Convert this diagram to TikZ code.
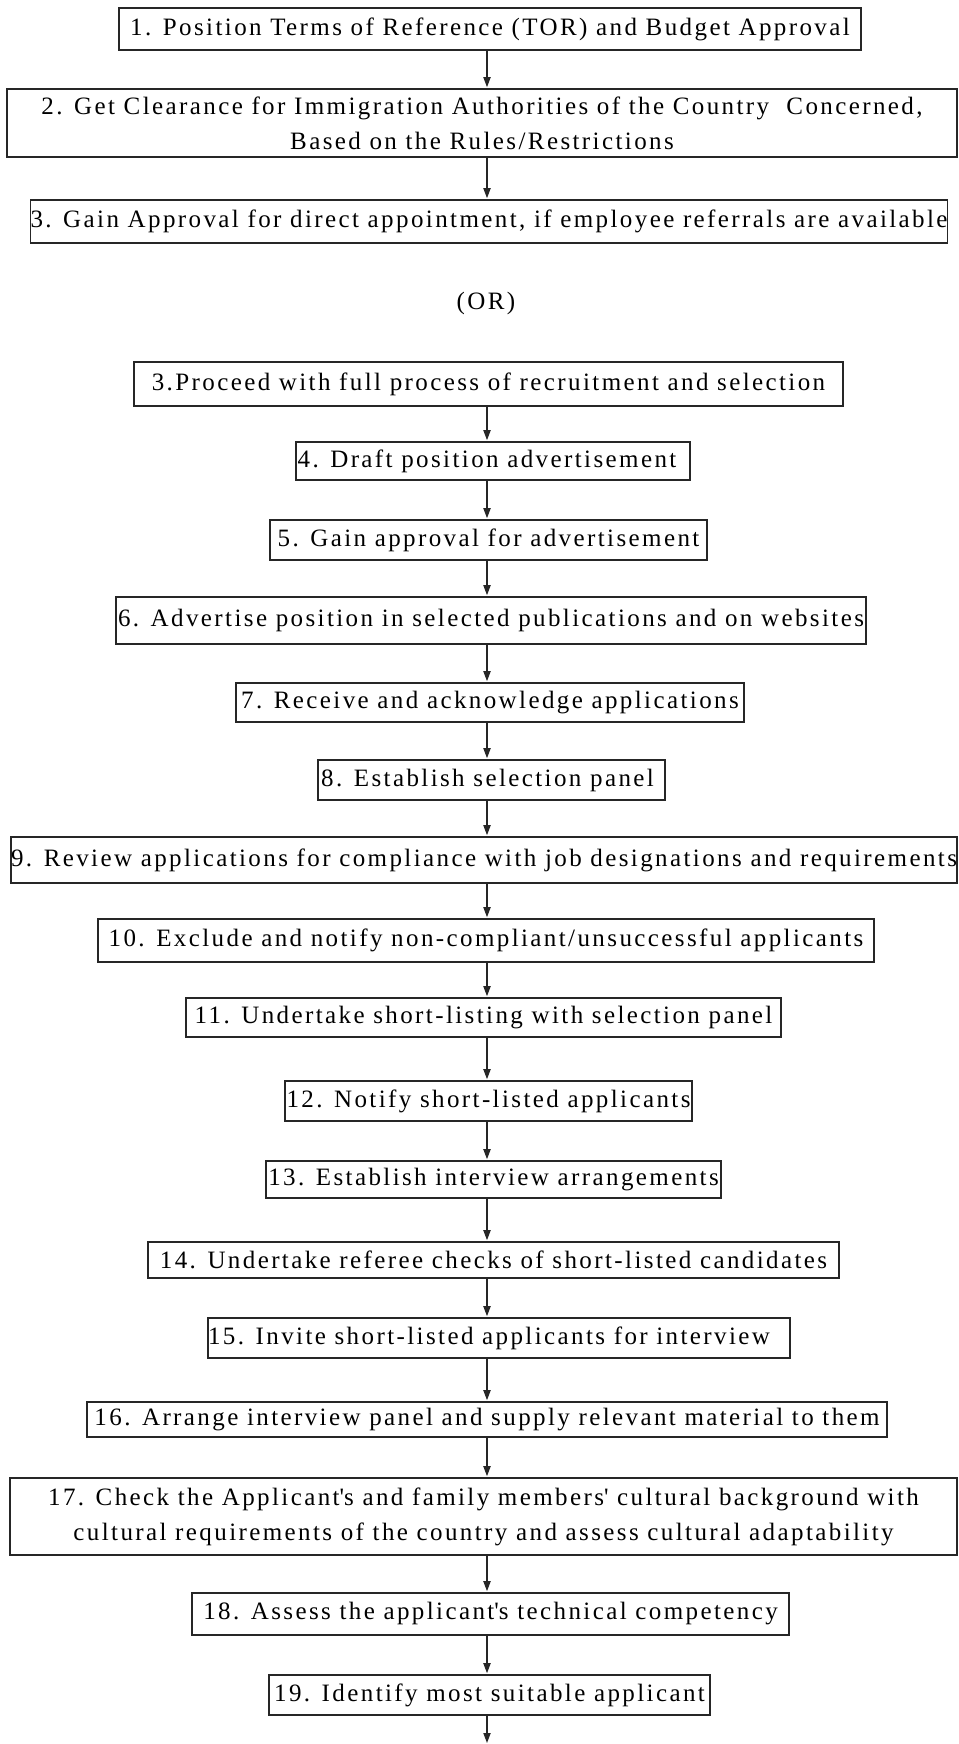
\documentclass[tikz,border=0pt]{standalone}
\usepackage{fontspec}
\setmainfont{Liberation Serif}[LetterSpace=9.6]
\usetikzlibrary{arrows.meta}
\begin{document}
\begin{tikzpicture}[x=0.5pt,y=-0.5pt,
  stepbox/.style={draw=black!85, line width=0.8pt, inner sep=0pt, align=center,
    font=\fontsize{12.5}{17.5}\selectfont},
  flow/.style={draw=black!85, line width=0.6pt, shorten >=0.5pt,
    -{Triangle[length=5pt,width=3.6pt]}}]
\useasboundingbox (0,0) rectangle (958,1744);
\coordinate (spine) at (487,0);

\node[stepbox, minimum width=371pt, minimum height=21pt] (s1) at (490,29)
  {1. Position Terms of Reference (TOR) and Budget Approval};
\node[stepbox, minimum width=475pt, minimum height=34pt] (s2) at (482,123)
  {2. Get Clearance for Immigration Authorities of the Country\ \ Concerned,\\Based on the Rules/Restrictions};
\node[stepbox, minimum width=458pt, minimum height=21.5pt] (s3) at (489,221.5)
  {3. Gain Approval for direct appointment, if employee referrals are available};
\node[font=\fontsize{12.5}{15}\selectfont] (or) at (486,303) {(OR)};
\node[stepbox, minimum width=354.5pt, minimum height=22pt] (s3b) at (488.5,384)
  {3.Proceed with full process of recruitment and selection};
\node[stepbox, minimum width=197pt, minimum height=19pt] (s4) at (493,461)
  {4. Draft position advertisement\hspace{6pt}};
\node[stepbox, minimum width=218.5pt, minimum height=20pt] (s5) at (488.5,540)
  {5. Gain approval for advertisement};
\node[stepbox, minimum width=375pt, minimum height=23.5pt] (s6) at (491,620.5)
  {6. Advertise position in selected publications and on websites};
\node[stepbox, minimum width=254pt, minimum height=19.5pt] (s7) at (490,702.5)
  {7. Receive and acknowledge applications};
\node[stepbox, minimum width=173.5pt, minimum height=20pt] (s8) at (491.5,780)
  {8. Establish selection panel\hspace{4pt}};
\node[stepbox, minimum width=473pt, minimum height=23pt] (s9) at (484,860)
  {9. Review applications for compliance with job designations and requirements};
\node[stepbox, minimum width=388pt, minimum height=21.5pt] (s10) at (486,940.5)
  {10. Exclude and notify non-compliant/unsuccessful applicants};
\node[stepbox, minimum width=297.5pt, minimum height=19.5pt] (s11) at (483.5,1017.5)
  {11. Undertake short-listing with selection panel};
\node[stepbox, minimum width=203.5pt, minimum height=20pt] (s12) at (488.5,1101)
  {12. Notify short-listed applicants};
\node[stepbox, minimum width=227.5pt, minimum height=18.5pt] (s13) at (493.5,1179.5)
  {13. Establish interview arrangements};
\node[stepbox, minimum width=345.5pt, minimum height=18pt] (s14) at (493.5,1260)
  {14. Undertake referee checks of short-listed candidates};
\node[stepbox, minimum width=287pt, minimum height=20pt] (s15) at (499,1338)
  {15. Invite short-listed applicants for interview\hspace{10pt}};
\node[stepbox, minimum width=400pt, minimum height=17.5pt] (s16) at (487,1419.5)
  {16. Arrange interview panel and supply relevant material to them};
\node[stepbox, minimum width=473.5pt, minimum height=38.5pt] (s17) at (483.5,1516.5)
  {17. Check the Applicant\textquotesingle s and family members\textquotesingle{} cultural background with\\cultural requirements of the country and assess cultural adaptability};
\node[stepbox, minimum width=298.5pt, minimum height=21pt] (s18) at (490.5,1614)
  {18. Assess the applicant\textquotesingle s technical competency};
\node[stepbox, minimum width=220.5pt, minimum height=20pt] (s19) at (489.5,1695)
  {19. Identify most suitable applicant};
\coordinate (tail) at (487,1744);

% connectors along the common vertical spine
\foreach \a/\b in {s1/s2, s2/s3, s3b/s4, s4/s5, s5/s6, s6/s7, s7/s8, s8/s9,
  s9/s10, s10/s11, s11/s12, s12/s13, s13/s14, s14/s15, s15/s16, s16/s17,
  s17/s18, s18/s19}
  \draw[flow] (\a.south -| spine) -- (\b.north -| spine);
\draw[flow] (s19.south -| spine) -- (tail);
\end{tikzpicture}
\end{document}
